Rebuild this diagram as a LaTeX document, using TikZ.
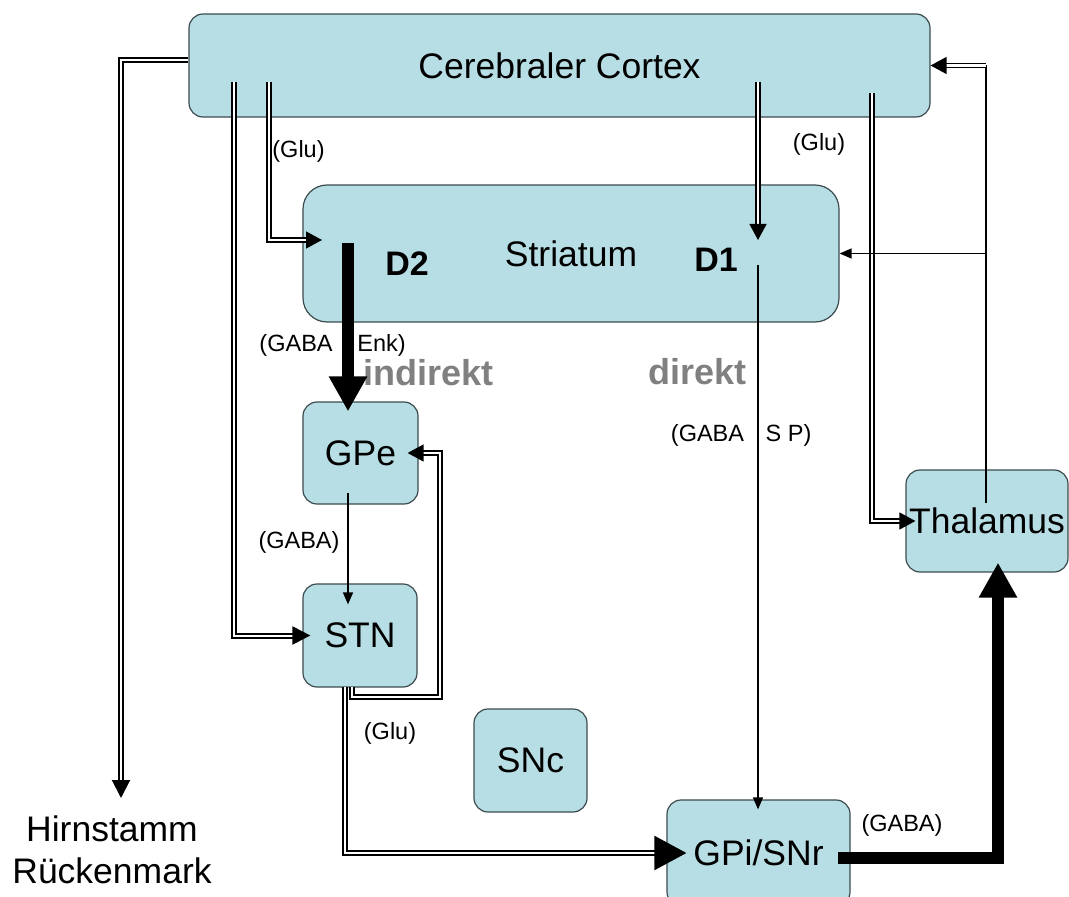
\documentclass[tikz,border=0pt]{standalone}
\usepackage{fontspec}
\setmainfont{Liberation Sans}
\usetikzlibrary{arrows.meta,calc}
\definecolor{boxfill}{RGB}{183,222,228}
\definecolor{boxline}{RGB}{60,76,78}
\definecolor{pathgray}{RGB}{128,128,128}

\begin{document}
\begin{tikzpicture}[x=0.5pt,y=-0.5pt,
  box/.style={draw=boxline,line width=0.6pt,fill=boxfill,rounded corners=7pt,inner sep=0pt,font=\fontsize{17.75}{21}\selectfont},
  lbl/.style={inner sep=0pt,font=\fontsize{11.75}{14}\selectfont},
  dname/.style={inner sep=0pt,font=\fontsize{17}{20}\selectfont\bfseries},
  route/.style={inner sep=0pt,text=pathgray,font=\fontsize{18}{21}\selectfont\bfseries},
  fine/.style={line width=0.7pt,-{Triangle[width=5pt,length=6pt]}},
  dbl/.style={double,line width=0.7pt,double distance=1.3pt,-{Triangle[width=8.5pt,length=8pt]}},
  dblbold/.style={double,line width=1pt,double distance=1pt,-{Triangle[width=9pt,length=9pt]}},
  dblheavy/.style={double,line width=1.1pt,double distance=1.2pt,-{Triangle[width=17pt,length=16pt]}},
  heavy/.style={line width=5.8pt,-{Triangle[width=18pt,length=17.5pt]}}]
                    \useasboundingbox (0,0) rectangle (1069,897);

                    \node[box,minimum width=370.5pt,minimum height=51.5pt] at (559.5,65.5) (cortex) {Cerebraler Cortex};
                    \node[box,rounded corners=12pt,minimum width=268pt,minimum height=68.5pt] at (571,253.5) (striatum) {Striatum};
                    \node[box,minimum width=57.5pt,minimum height=51pt] at (360.5,453) (gpe) {GPe};
                    \node[box,minimum width=57pt,minimum height=51.5pt] at (360,635.5) (stn) {STN};
                    \node[box,minimum width=56.5pt,minimum height=51.5pt] at (530.5,760.5) (snc) {SNc};
                    \node[box,minimum width=91.5pt,minimum height=53pt] at (758.5,853) (gpi) {GPi/SNr};
                    \node[box,minimum width=81pt,minimum height=51pt] at (987,521) (thal) {Thalamus};
                    \node[inner sep=0pt,anchor=north,align=center,font=\fontsize{17.75}{21}\selectfont] at (112,815) (hirn) {Hirnstamm\\Rückenmark};

                    \node[dname] at (407,264) (d2) {D2};
                    \node[dname] at (716,260) (d1) {D1};
                    \node[route,anchor=base west] at (363,386) (indir) {indirekt};
                    \node[route,anchor=base west] at (648,385) (dir) {direkt};

                    \coordinate (ctxa) at (234,82);
                    \coordinate (ctxb) at (269,82);
                    \coordinate (ctxc) at (758,82);
                    \coordinate (ctxd) at (872,93);
                    \coordinate (d2in) at (322,240);
                    \coordinate (d2out) at (348,243);
                    \coordinate (d1in) at (758,240);
                    \coordinate (d1out) at (758,265);
                    \coordinate (gpeout) at (348,493);
                    \coordinate (stnouta) at (345,687);
                    \coordinate (stnoutb) at (352,687);
                    \coordinate (loop) at (440,697);
                    \coordinate (thalout) at (986,503);
                    \coordinate (gpiout) at (838,858);

                    \draw[dblbold] ([yshift=2.5pt]cortex.west) -| ($(hirn.north)+(9,-17)$);
                    \draw[dblbold,shorten >=-4pt] (ctxa) |- (stn.west);
                    \draw[dbl] (ctxb) |- (d2in);
                    \draw[dbl] (ctxc) -- (d1in);
                    \draw[dbl,shorten >=-5pt] (ctxd) |- (thal.west);
                    \draw[line width=0.7pt] (thalout) -- (thalout |- cortex.east);
                    \draw[dbl] (thalout |- cortex.east) -- (cortex.east);
                    \draw[fine] (thalout |- striatum.east) -- (striatum.east);
                    \draw[heavy,shorten >=-5pt] (d2out) -- (d2out |- gpe.north);
                    \draw[fine,shorten >=-5pt] (d1out) -- (d1out |- gpi.north);
                    \draw[fine,shorten >=-10.5pt] (gpeout) -- (gpeout |- stn.north);
                    \draw[dbl,shorten >=-5.5pt] (stnoutb) |- (loop) |- (gpe.east);
                    \draw[dblheavy,shorten >=-10pt] (stnouta) |- (gpi.west);
                    \draw[heavy,shorten >=-5pt] (gpiout) -| ([xshift=5.5pt]thal.south);

                    \node[lbl] at (298.5,151) (glua) {(Glu)};
                    \node[lbl] at (819,144) (glub) {(Glu)};
                    \node[lbl,anchor=east] at (333,345) (gabaa) {(GABA};
                    \node[lbl,anchor=west] at (357,345) (enk) {Enk)};
                    \node[lbl] at (707.5,435) (gabab) {(GABA};
                    \node[lbl] at (788.5,435) (sp) {S P)};
                    \node[lbl] at (299,542) (gabac) {(GABA)};
                    \node[lbl] at (390,733) (gluc) {(Glu)};
                    \node[lbl] at (902,825) (gabad) {(GABA)};
                \end{tikzpicture}
\end{document}
